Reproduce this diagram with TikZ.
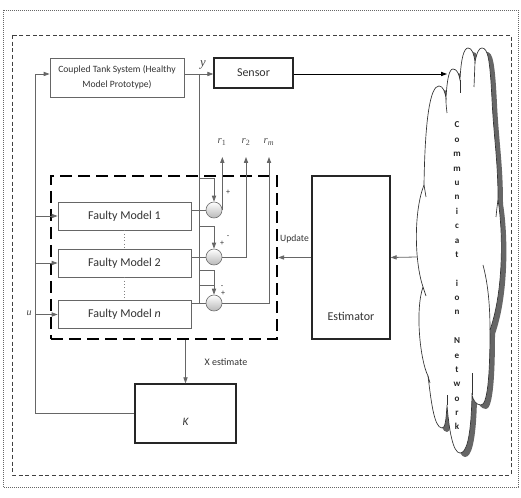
\documentclass[tikz,border=0pt]{standalone}
\usepackage{fontspec}
\setmainfont{Carlito}
\newfontfamily\serifit{Liberation Serif}
\usetikzlibrary{arrows.meta,shadows}

\begin{document}
\begin{tikzpicture}[x=0.75pt,y=-0.75pt,
  conn/.style={draw=black!60,line width=0.6pt},
  arr/.style={-{Triangle[length=4.5pt,width=3.2pt]}},
  plainbox/.style={draw=black!60,line width=0.6pt,fill=white,align=center,text=black!80,inner sep=1pt},
  heavybox/.style={draw=black!85,line width=1pt,fill=white,text=black!80,
    drop shadow={shadow xshift=1pt,shadow yshift=-1pt,fill=black!70,opacity=1}},
  sumnode/.style={circle,draw=black!55,line width=0.5pt,minimum size=12pt,inner sep=0pt,
    top color=white,bottom color=black!28},
  sign/.style={font=\fontsize{6}{6}\selectfont,text=black!80,inner sep=0pt},
  lbl/.style={text=black!80,inner sep=0pt},
  rlbl/.style={font=\serifit\fontsize{8}{8}\selectfont,text=black!70,inner sep=0pt},
  cloudtxt/.style={font=\bfseries\fontsize{6.8}{6.8}\selectfont,text=black!85,inner sep=0pt},
  ]
\useasboundingbox (0,0) rectangle (521,498);

% frames
\draw[black!60,line width=0.6pt,dash pattern=on 0.6pt off 0.9pt] (3,10) rectangle (518,487);
\draw[black!75,line width=0.7pt,dash pattern=on 3pt off 2pt] (12,35) rectangle (511,475);

% communication network cloud
\def\cloudpath{(424,185) .. controls (425,120) and (430,86) .. (439,86)
 .. controls (443,86) and (445,92) .. (446,98)
 .. controls (447,80) and (449,69) .. (453,69) .. controls (457,69) and (459,74) .. (460,80)
 .. controls (461,58) and (464,48) .. (468,48) .. controls (472,48) and (474,54) .. (475,62)
 .. controls (477,52) and (479,48) .. (482,48) .. controls (488,48) and (490,60) .. (492,100)
 .. controls (494,140) and (498,160) .. (498,200)
 .. controls (503,230) and (504,290) .. (490,330)
 .. controls (490,380) and (487,405) .. (481,405) .. controls (476,405) and (473,400) .. (472,395)
 .. controls (471,440) and (466,453) .. (460,453) .. controls (453,453) and (449,430) .. (447,405)
 .. controls (446,422) and (445,428) .. (442,428) .. controls (434,428) and (431,400) .. (428,376)
 .. controls (420,360) and (415,310) .. (423,287)
 .. controls (414,260) and (414,210) .. (424,185) -- cycle}
\fill[black!60,shift={(5,4)}] \cloudpath;
\draw[black!80,line width=0.5pt,fill=white] \cloudpath;
\begin{scope}[black!80,line width=0.5pt]
  \draw (446,98) .. controls (446,104) .. (447,113);
  \draw (460,80) .. controls (460,86) .. (460,93);
  \draw (475,62) .. controls (475,75) .. (474,87);
  \draw (498,200) .. controls (497,207) .. (496,217);
  \draw (490,330) .. controls (490,300) and (487,280) .. (483,265);
  \draw (472,395) -- (472,373);
  \draw (447,405) -- (447,395);
  \draw (428,376) -- (430,383);
  \draw (423,287) -- (426,296);
  \draw (424,185) -- (426,197);
\end{scope}
\foreach \ch [count=\i] in {C,o,m,m,u,n,i,c,a,t,{},i,o,n,{},N,e,t,w,o,r,k}
  \node[cloudtxt,anchor=base] (cl\i) at (457,{128+14.38*(\i-1)}) {\ch};

% blocks
\node[plainbox,minimum width=100.5pt,minimum height=29.25pt,
  font=\fontsize{7.2}{11.25}\selectfont] (ct) at (117,77.5) {Coupled Tank System (Healthy\\Model Prototype)};
\node[heavybox,minimum width=59.25pt,minimum height=22.5pt,
  font=\fontsize{9}{9}\selectfont] (sensor) at (253.5,73) {Sensor};

\node[draw=black,line width=1.8pt,dash pattern=on 9pt off 4.5pt,
  minimum width=169.5pt,minimum height=122.25pt,inner sep=0pt] (fmbox) at (164,257.5) {};

\node[plainbox,minimum width=99.75pt,minimum height=21pt,font=\fontsize{9}{9}\selectfont] (fm1) at (124.5,216) {Faulty Model 1};
\node[plainbox,minimum width=99.75pt,minimum height=21pt,font=\fontsize{9}{9}\selectfont] (fm2) at (124.5,263) {Faulty Model 2};
\node[plainbox,minimum width=99.75pt,minimum height=21pt,font=\fontsize{9}{9}\selectfont] (fmn) at (124.5,314.5) {Faulty Model \textit{n}};

\node[heavybox,minimum width=58.5pt,minimum height=122.25pt,
  label={[lbl,font=\fontsize{9}{9}\selectfont,yshift=-43.9pt]center:Estimator}] (est) at (351,257.5) {};
\node[heavybox,minimum width=75.75pt,minimum height=44.25pt,
  label={[lbl,font=\fontsize{8.5}{8.5}\selectfont\itshape,yshift=-6pt]center:K}] (K) at (185.5,413.5) {};

\node[sumnode] (c1) at (214,210) {};
\node[sumnode] (c2) at (214,257) {};
\node[sumnode] (c3) at (214,303) {};

% junctions and free ends
\coordinate (fb) at (35,74);
\coordinate (yb) at (199,74);
\coordinate (ybot) at (199,303);
\coordinate (b1) at (199,178);
\coordinate (b2) at (199,226);
\coordinate (b3) at (199,270);
\coordinate (b4) at (199,285);
\coordinate (rtop) at (222,157);
\coordinate (r2x) at (246,157);
\coordinate (rmx) at (269,157);
\coordinate (cin) at (447,74);
\coordinate (cout) at (417,257);

% connectors
\draw[conn,arr] (K.west) -| (fb) -- (ct.west |- fb);
\foreach \m in {fm1,fm2,fmn} \draw[conn,arr] (fb |- \m.west) -- (\m.west);
\draw[conn,arr] (ct.east |- yb) -- (sensor.west |- yb);
\draw[draw=black,line width=0.6pt,arr] (sensor.east |- yb) -- (cin);
\draw[conn] (yb) -- (ybot);
\draw[conn,arr] (b1) -| (c1.north);
\draw[conn,arr] (b2) -| (c2.north);
\draw[conn,arr] (b3) -| (c3.north);
\draw[conn] (b4) -- (b4 -| c3.north);
\draw[conn] (fm1.east |- c1.west) -- (c1.west);
\draw[conn] (fm2.east |- c2.west) -- (c2.west);
\draw[conn] (fmn.east |- c3.west) -- (c3.west);
\draw[conn,arr] (c1.east) -- (c1.east |- rtop);
\draw[conn,arr] (c2.east) -| (r2x);
\draw[conn,arr] (c3.east) -| (rmx);
\draw[conn,arr] (est.west) -- (est.west -| fmbox.east);
\draw[conn,arr] (cout) -- (est.east);
\draw[conn,arr] (K.north |- fmbox.south) -- (K.north);
\draw[draw=black!50,line width=0.5pt,dotted] (fm1.south) -- (fm2.north);
\draw[draw=black!50,line width=0.5pt,dotted] (fm2.south) -- (fmn.north);

% labels
\node[font=\serifit\itshape\fontsize{9.5}{9.5}\selectfont,text=black!75,inner sep=0pt] (ylbl) at (203,65) {y};
\node[font=\serifit\itshape\fontsize{7.5}{7.5}\selectfont,text=black!75,inner sep=0pt] (ulbl) at (29,313) {u};
\node[rlbl] (r1l) at (222,142) {\textit{r}\textsubscript{1}};
\node[rlbl] (r2l) at (246,142) {\textit{r}\textsubscript{2}};
\node[rlbl] (rml) at (269,142) {\textit{r}\textsubscript{\textit{m}}};
\node[lbl,font=\fontsize{7.2}{7.2}\selectfont] (upd) at (294.5,239) {Update};
\node[lbl,font=\fontsize{7.5}{7.5}\selectfont] (xest) at (226,362) {X estimate};

\node[sign] (s1) at (228,192) {+};
\node[sign] (s2a) at (222,243) {+};
\node[sign] (s2b) at (228,237) {-};
\node[sign] (s3a) at (222,287) {-};
\node[sign] (s3b) at (223,293) {+};
\end{tikzpicture}
\end{document}
